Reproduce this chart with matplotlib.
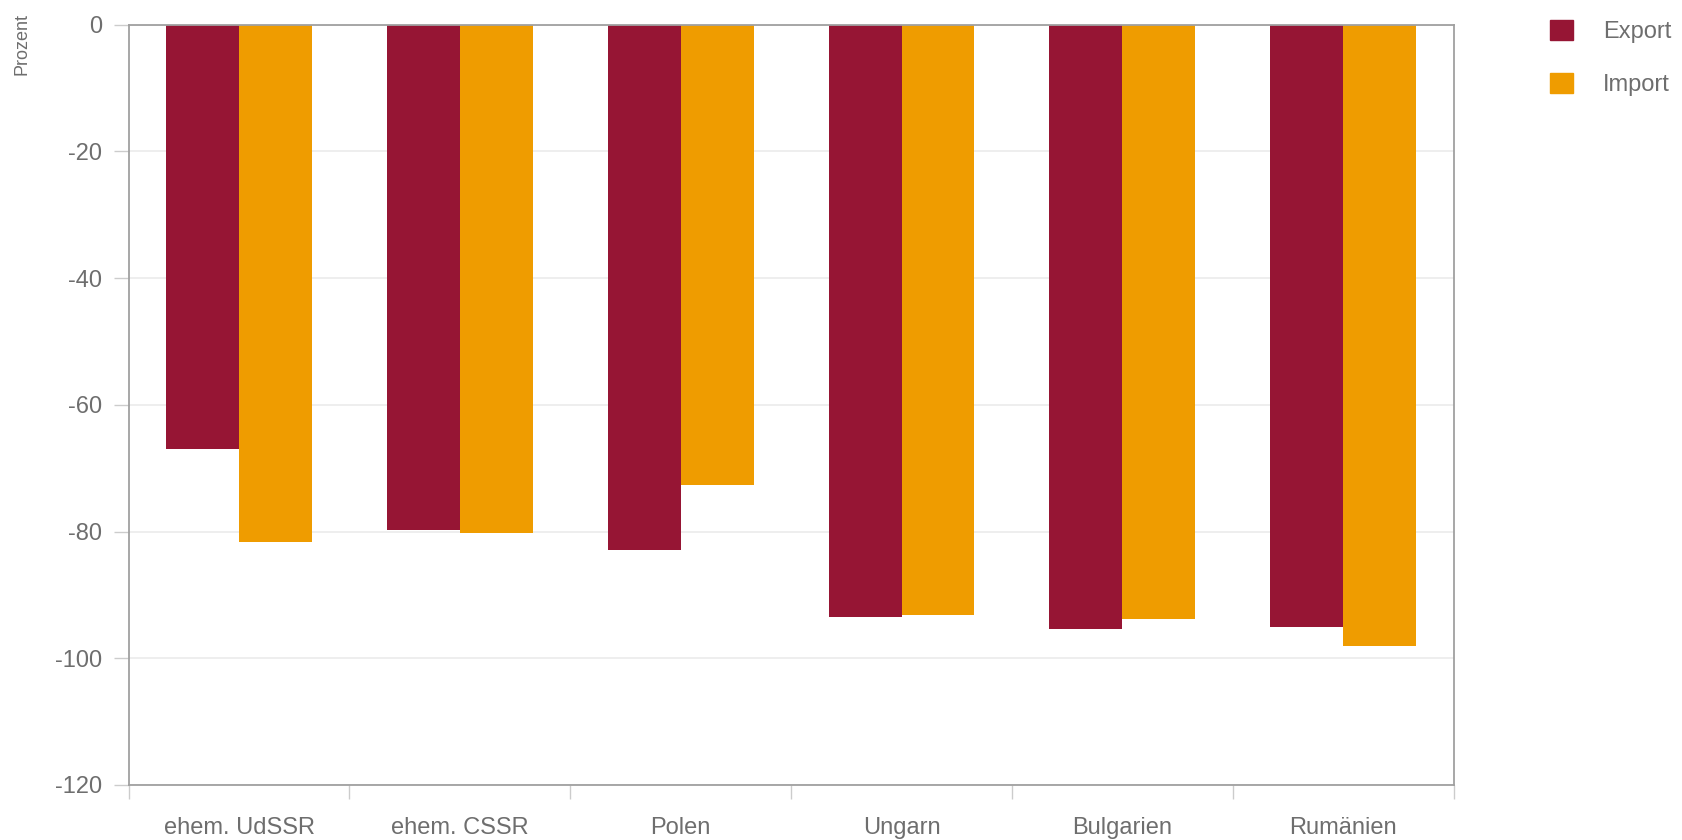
import matplotlib.pyplot as plt
import numpy as np
from matplotlib.patches import Patch

plt.rcParams['font.family'] = ['Liberation Sans', 'DejaVu Sans']
plt.rcParams['axes.unicode_minus'] = False

laender = ["ehem. UdSSR", "ehem. CSSR", "Polen", "Ungarn", "Bulgarien", "Rumänien"]
export = [-67.0, -79.7, -82.9, -93.5, -95.3, -95.0]
importe = [-81.6, -80.3, -72.7, -93.2, -93.8, -98.0]

c_export = "#961534"
c_import = "#EF9C00"
txt = "#6e6e6e"

fig = plt.figure(figsize=(16.82, 8.4), dpi=100)
ax = fig.add_axes([0.0765, 0.0655, 0.7877, 0.905])

x = np.arange(len(laender))
w = 0.33
ax.bar(x - w / 2, export, w, color=c_export, label="Export")
ax.bar(x + w / 2, importe, w, color=c_import, label="Import")

ax.set_xlim(-0.5, len(laender) - 0.5)
ax.set_ylim(-120, 0)
ax.set_yticks(np.arange(-120, 1, 20))
ax.yaxis.grid(True, color="#ebebeb", linewidth=1.2)
ax.set_axisbelow(True)

# ticks at the category borders, labels in the middle
ax.set_xticks(np.arange(-0.5, len(laender), 1.0))
ax.set_xticklabels([])
ax.set_xticks(x, minor=True)
ax.set_xticklabels(laender, minor=True)
ax.tick_params(axis="x", which="major", length=10, color="#cccccc", width=1)
ax.tick_params(axis="x", which="minor", length=0, pad=23, labelsize=17, labelcolor=txt)
ax.tick_params(axis="y", length=11, color="#cccccc", width=1, labelsize=17, labelcolor=txt, pad=8)

for s in ax.spines.values():
    s.set_color("#a0a0a0")
    s.set_linewidth(1.3)

fig.text(0.008, 0.985, "Prozent", rotation=90, va="top", ha="left", fontsize=13, color=txt)

handles = [Patch(color=c_export), Patch(color=c_import)]
fig.legend(handles, ["Export", "Import"], loc="upper left", bbox_to_anchor=(0.909, 1.002),
           frameon=False, fontsize=17, labelcolor=txt, handlelength=0.95, handleheight=0.95,
           handletextpad=1.3, labelspacing=1.27)

fig.savefig("out.png", dpi=100)
